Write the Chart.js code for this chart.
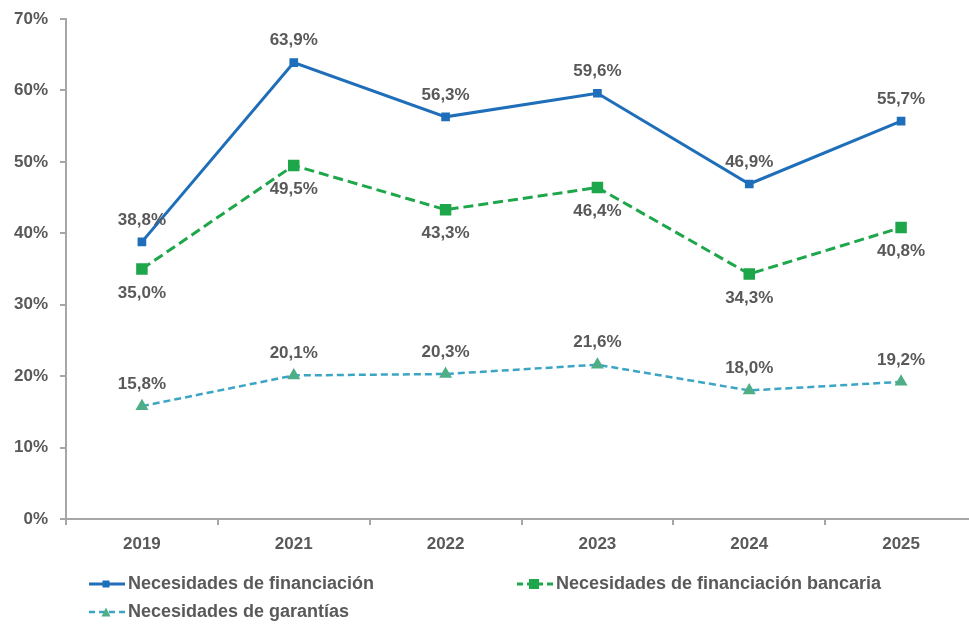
<!DOCTYPE html>
<html>
<head>
<meta charset="utf-8">
<script src="https://cdn.jsdelivr.net/npm/chart.js@4"></script>
<style>
  html, body { margin: 0; padding: 0; background: #fff; overflow: hidden; }
  body { width: 969px; height: 628px; position: relative; }
  .wrap { position: absolute; left: 0; top: 0; width: 986px; height: 628px; }
  .legend { position: absolute; font: bold 18px "Liberation Sans", Arial, sans-serif; color: #595959; display: flex; align-items: center; white-space: nowrap; }
  .legend canvas { margin-right: 3px; }
</style>
</head>
<body>
<div class="wrap"><canvas id="chart"></canvas></div>
<div class="legend" style="left:89px; top:573px;"><canvas id="lg1" width="36" height="20"></canvas>Necesidades de financiación</div>
<div class="legend" style="left:517px; top:573px;"><canvas id="lg2" width="36" height="20"></canvas>Necesidades de financiación bancaria</div>
<div class="legend" style="left:89px; top:601px;"><canvas id="lg3" width="36" height="20"></canvas>Necesidades de garantías</div>
<script>
// data
const years = ['2019', '2021', '2022', '2023', '2024', '2025'];
const financiacion = [38.8, 63.9, 56.3, 59.6, 46.9, 55.7];
const bancaria = [35.0, 49.5, 43.3, 46.4, 34.3, 40.8];
const garantias = [15.8, 20.1, 20.3, 21.6, 18.0, 19.2];

const blue = '#1f6eb9';
const green = '#1ea64b';
const teal = '#3ba5c6';
const triGreen = '#4fae86';
const textGray = '#595959';
const axisGray = '#a6a6a6';
const font = '"Liberation Sans", Arial, sans-serif';

function fmt(v) {
    return v.toFixed(1).replace('.', ',') + '%';
}

// value labels: above for blue and teal, below for green
const valueLabels = {
    id: 'valueLabels',
    afterDatasetsDraw(chart) {
        const ctx = chart.ctx;
        ctx.save();
        ctx.font = 'bold 17px ' + font;
        ctx.fillStyle = textGray;
        ctx.textAlign = 'center';
        ctx.textBaseline = 'middle';
        chart.data.datasets.forEach((ds, i) => {
            const meta = chart.getDatasetMeta(i);
            meta.data.forEach((pt, j) => {
                const dy = ds.labelBelow ? 24 : -22;
                ctx.fillText(fmt(ds.data[j]), pt.x, pt.y + dy);
            });
        });
        ctx.restore();
    }
};

new Chart(document.getElementById('chart'), {
    type: 'line',
    data: {
        labels: years,
        datasets: [{
            label: 'Necesidades de financiación',
            data: financiacion,
            borderColor: blue,
            backgroundColor: blue,
            borderWidth: 3,
            pointStyle: 'rect',
            pointRadius: 4,
            labelBelow: false
        }, {
            label: 'Necesidades de financiación bancaria',
            data: bancaria,
            borderColor: green,
            backgroundColor: green,
            borderWidth: 3,
            borderDash: [10, 5],
            pointStyle: 'rect',
            pointRadius: 6,
            labelBelow: true
        }, {
            label: 'Necesidades de garantías',
            data: garantias,
            borderColor: teal,
            backgroundColor: triGreen,
            pointBorderColor: triGreen,
            borderWidth: 2.5,
            borderDash: [7, 4],
            pointStyle: 'triangle',
            pointRadius: 5,
            labelBelow: false
        }]
    },
    options: {
        responsive: true,
        maintainAspectRatio: false,
        animation: false,
        layout: { padding: { top: 19, right: 5, left: 0, bottom: 0 } },
        plugins: { legend: { display: false }, tooltip: { enabled: false } },
        scales: {
            x: {
                offset: true,
                grid: { display: true, drawOnChartArea: false, drawTicks: true, tickLength: 6, color: axisGray, lineWidth: 2, offset: true },
                border: { color: axisGray, width: 2 },
                ticks: { color: textGray, font: { family: font, size: 17, weight: 'bold' }, padding: 9 },
                afterFit(scale) { scale.height = 109; }
            },
            y: {
                min: 0,
                max: 70,
                grid: { display: true, drawOnChartArea: false, drawTicks: true, tickLength: 6, color: axisGray, lineWidth: 2 },
                border: { color: axisGray, width: 2 },
                ticks: { stepSize: 10, color: textGray, font: { family: font, size: 17, weight: 'bold', lineHeight: 0.8 }, padding: 12, callback: v => v + '%' },
                afterFit(scale) { scale.width = 66; }
            }
        }
    },
    plugins: [valueLabels]
});

// legend markers
function marker(id, color, dash, style, fill, size, lw) {
    const c = document.getElementById(id).getContext('2d');
    c.strokeStyle = color;
    c.lineWidth = lw;
    c.setLineDash(dash);
    c.beginPath();
    c.moveTo(0, 10);
    c.lineTo(36, 10);
    c.stroke();
    c.fillStyle = fill;
    if (style === 'rect') {
        c.fillRect(17 - size / 2, 10 - size / 2, size, size);
    } else {
        c.beginPath();
        c.moveTo(17, 10 - size / 2);
        c.lineTo(17 + size / 2, 10 + size / 2);
        c.lineTo(17 - size / 2, 10 + size / 2);
        c.closePath();
        c.fill();
    }
}
marker('lg1', blue, [], 'rect', blue, 7, 3);
marker('lg2', green, [6, 4], 'rect', green, 10, 3);
marker('lg3', teal, [6, 4], 'tri', triGreen, 9, 2.5);
</script>
</body>
</html>
